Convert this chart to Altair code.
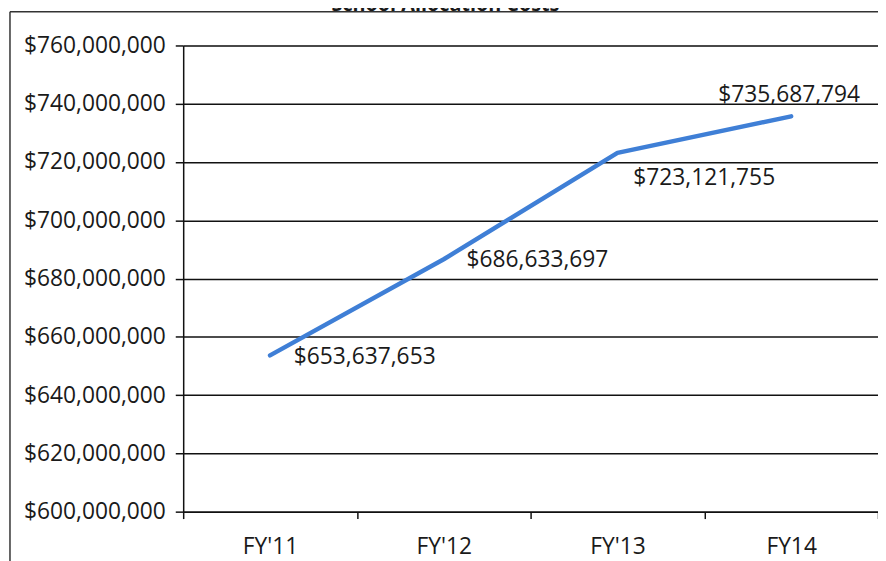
import altair as alt
import pandas as pd

years = ["FY'11", "FY'12", "FY'13", "FY14"]
costs = [653637653, 686633697, 723121755, 735687794]
labels = ["$653,637,653", "$686,633,697", "$723,121,755", "$735,687,794"]
title_text = "School Allocation Costs"

df = pd.DataFrame({"year": years, "cost": costs, "label": labels})

FONT = "Open Sans"
TXT = "#1a1a1a"

xscale = alt.Scale(type="band", domain=years, paddingInner=0, paddingOuter=0)
yscale = alt.Scale(domain=[600000000, 760000000], nice=False, zero=False)

x_axis = alt.Axis(
    title=None, tickBand="extent", labelAngle=0, domainColor="#111", domainWidth=1.5,
    tickColor="#111", tickWidth=1.5, tickSize=7, labelPadding=17,
    labelFont=FONT, labelFontSize=23, labelColor=TXT, grid=False,
)
y_axis = alt.Axis(
    title=None, format="$,.0f", values=list(range(600000000, 760000001, 20000000)),
    domainColor="#111", domainWidth=1.5, tickColor="#111", tickWidth=1.5,
    tickSize=8, labelPadding=10, labelFont=FONT, labelFontSize=23,
    labelColor=TXT, grid=True, gridColor="#111", gridWidth=1.5, gridOpacity=1,
)

base = alt.Chart(df)

line = base.mark_line(color="#3f7fd6", strokeWidth=4.5, strokeCap="round", strokeJoin="round").encode(
    x=alt.X("year:N", scale=xscale, axis=x_axis, sort=years, bandPosition=0.5),
    y=alt.Y("cost:Q", scale=yscale, axis=y_axis),
)

def lab(i, align, dx, dy):
    return base.transform_filter(alt.datum.year == years[i]).mark_text(
        font=FONT, fontSize=23, color=TXT, align=align, baseline="middle", dx=dx, dy=dy
    ).encode(
        x=alt.X("year:N", scale=xscale, sort=years, bandPosition=0.5),
        y=alt.Y("cost:Q", scale=yscale),
        text="label:N",
    )

texts = [
    lab(0, "left", 24, 2),
    lab(1, "left", 23, 1),
    lab(2, "left", 16, 25),
    lab(3, "center", -2, -21),
]

frame_df = pd.DataFrame({"t": [title_text]})
left_border = alt.Chart(frame_df).mark_rule(color="#333", strokeWidth=1.5).encode(
    x=alt.value(-175), y=alt.value(-34), y2=alt.value(530)
)
top_border = alt.Chart(frame_df).mark_rule(color="#333", strokeWidth=1.5).encode(
    x=alt.value(-175), x2=alt.value(720), y=alt.value(-34)
)
title = alt.Chart(frame_df).mark_text(
    font=FONT, fontSize=20, fontWeight="bold", color=TXT, align="center", baseline="alphabetic"
).encode(x=alt.value(265), y=alt.value(-34.5), text="t:N")

chart = alt.layer(line, *texts, left_border, top_border, title).properties(
    width=702, height=471,
    autosize=alt.AutoSizeParams(type="none"),
    padding={"left": 177, "top": 35, "right": 0, "bottom": 47},
).configure_view(stroke=None).configure(background="white")

chart.save("out.html", embed_options={"renderer": "svg", "actions": False})
